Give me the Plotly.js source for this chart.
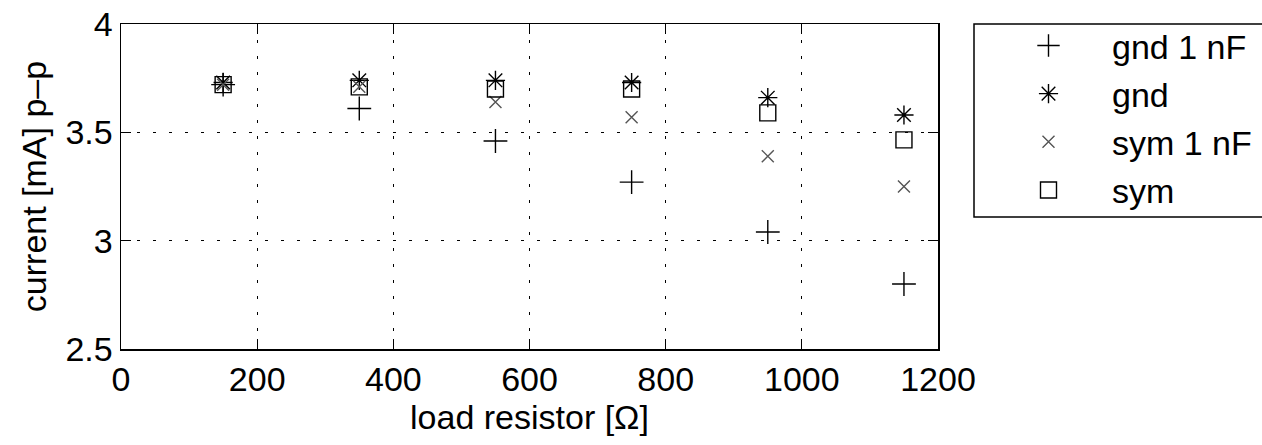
<!DOCTYPE html>
<html>
<head>
<meta charset="utf-8">
<script src="https://cdn.plot.ly/plotly-3.0.1.min.js"></script>
<style>html,body{margin:0;padding:0;background:#fff;}</style>
</head>
<body>
<div id="chart" style="width:1262px;height:445px;"></div>
<script>
const loadResistor = [150, 350, 550, 750, 950, 1150];
const gnd1nF = [3.72, 3.61, 3.46, 3.27, 3.04, 2.80];
const gnd    = [3.73, 3.74, 3.74, 3.73, 3.66, 3.58];
const sym1nF = [3.72, 3.71, 3.64, 3.57, 3.39, 3.25];
const sym    = [3.72, 3.71, 3.70, 3.70, 3.59, 3.465];
const seriesNames = ['gnd 1 nF', 'gnd', 'sym 1 nF', 'sym'];
const xTicks = [0, 200, 400, 600, 800, 1000, 1200];
const yTicks = [2.5, 3, 3.5, 4];

const FONT = '"Liberation Sans", Arial, sans-serif';
function tr(y, name, symbol, size, color, g) {
  return {x: loadResistor, y: y, name: name, type: 'scatter', mode: 'markers',
    legendgroup: g,
    marker: {symbol: symbol, size: size, color: color, line: {color: color, width: 1.4}}};
}
const data = [
  tr(gnd1nF, seriesNames[0], 'cross-thin-open', 17, '#000', 'a'),
  tr(gnd, seriesNames[1], 'asterisk-open', 16, '#000', 'b'),
  tr(sym1nF, seriesNames[2], 'x-thin-open', 12, '#555', 'c'),
  tr(sym, seriesNames[3], 'square-open', 16, '#000', 'd')
];
const axisCommon = {
  showline: true, linecolor: '#000', linewidth: 1.5, mirror: 'ticks',
  ticks: 'inside', ticklen: 10, tickcolor: '#000', tickwidth: 1,
  showgrid: true, gridcolor: '#000', gridwidth: 1, griddash: '3px,13px',
  zeroline: false, tickfont: {family: FONT, size: 34, color: '#000'}
};
const layout = {
  width: 1262, height: 445,
  margin: {l: 121, r: 324, t: 24, b: 96, autoexpand: false},
  paper_bgcolor: '#fff', plot_bgcolor: '#fff',
  showlegend: true,
  xaxis: Object.assign({}, axisCommon, {range: [0, 1200], tickvals: xTicks, ticktext: xTicks.map(String),
    title: {text: 'load resistor [Ω]', font: {family: FONT, size: 34, color: '#000'}, standoff: 4}}),
  yaxis: Object.assign({}, axisCommon, {range: [2.5, 4], tickvals: yTicks, ticktext: ['2.5', '3', '3.5', '4'],
    title: {text: 'current [mA] p–p', font: {family: FONT, size: 34, color: '#000'}, standoff: 8}}),
  legend: {xref: 'paper', font: {family: FONT, size: 34, color: '#000'},
    bgcolor: 'rgba(0,0,0,0)', borderwidth: 0, traceorder: 'grouped', tracegroupgap: 1,
    itemwidth: 117},
  shapes: [{type: 'rect', xref: 'paper', yref: 'paper', x0: (974-121)/817, x1: (1300-121)/817,
    y0: (349-217)/325, y1: 1, line: {color: '#000', width: 1.5}}]
};
layout.legend.x = (985-121)/817;
layout.legend.y = 1.022;
layout.legend.xanchor = 'left';
layout.legend.yanchor = 'top';
Plotly.newPlot('chart', data, layout, {displayModeBar: false, staticPlot: true});
</script>
</body>
</html>
